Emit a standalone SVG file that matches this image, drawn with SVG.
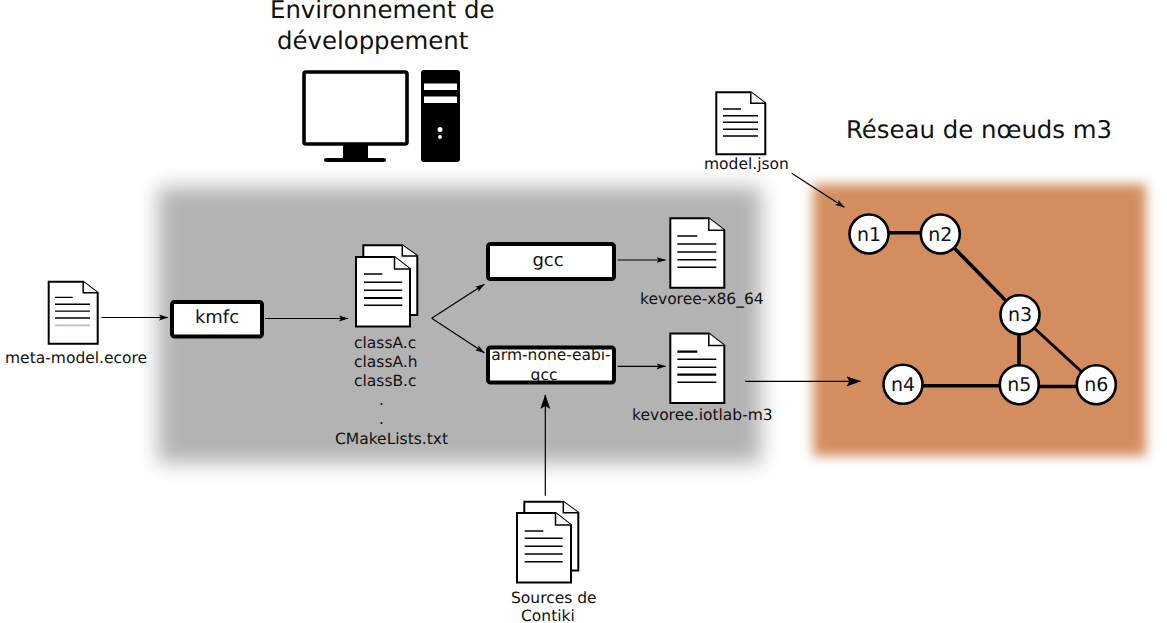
<svg xmlns="http://www.w3.org/2000/svg" width="1167" height="623" viewBox="0 0 1167 623">
<style>
text{font-family:"DejaVu Sans",sans-serif;fill:#111;text-rendering:geometricPrecision}
.t{font-size:24.4px}.s{font-size:15.5px}.b{font-size:18px}.n{font-size:19px;text-anchor:middle}
.box{fill:#fff;stroke:#000;stroke-width:4}
.doc{fill:#fff;stroke:#000;stroke-width:2}
.nv{stroke:#0e0840}
.fold{fill:#fff;stroke:#000;stroke-width:1.5}
.l{stroke:#000;stroke-width:1.4;fill:none}
.k{stroke-width:2.2}
.c{stroke:#000;stroke-width:1.2;fill:none;marker-end:url(#a)}
.d{stroke:#000;stroke-width:1.2;fill:none;marker-end:url(#g)}
.e{stroke:#000;stroke-width:3.6;fill:none}
.nd{fill:#fff;stroke:#000;stroke-width:2.6}
</style>
<defs>
<filter id="bl" x="-15%" y="-25%" width="130%" height="150%"><feGaussianBlur stdDeviation="10"/></filter>
<filter id="bl2" x="-15%" y="-15%" width="130%" height="130%"><feGaussianBlur stdDeviation="6"/></filter>
<marker id="a" markerWidth="11" markerHeight="8" refX="9" refY="3.500" orient="auto" markerUnits="userSpaceOnUse" viewBox="0 0 11 7"><path d="M0 0.500L9.500 3.500L0 6.500L2 3.500Z" fill="#000"/></marker>
<marker id="g" markerWidth="16" markerHeight="12" refX="14" refY="5" orient="auto" markerUnits="userSpaceOnUse" viewBox="0 0 16 10"><path d="M0 0L14.500 5L0 10L3 5Z" fill="#000"/></marker>
<g id="sheet"><path class="doc" d="M0 0H38.500L54 12V69.500H0Z"/><path class="fold" d="M38.500 0V12H54"/></g>
<g id="page"><path class="doc" d="M0 0H34.500L49 11V62H0Z"/><path class="fold" d="M34.500 0V11H49"/></g>
</defs>
<g id="panel-dev"><rect x="158" y="187" width="603" height="276" fill="#b3b3b3" filter="url(#bl)"/></g>
<g id="panel-net"><rect x="813" y="184" width="333" height="272" fill="#d38d5f" filter="url(#bl2)"/></g>
<g id="title-dev"><text class="t" x="270" y="18">Environnement de</text><text class="t" x="277" y="48.500">développement</text></g>
<g id="title-net"><text class="t" x="846" y="138">Réseau de nœuds m3</text></g>
<g id="computer">
<rect x="304" y="72" width="103" height="72" rx="2" fill="#fff" stroke="#000" stroke-width="3.600"/>
<rect x="343" y="145" width="25" height="13" fill="#000"/>
<rect x="324" y="158" width="62" height="4" rx="2" fill="#000"/>
<rect x="421" y="70" width="39" height="92" rx="3" fill="#000"/>
<rect x="424" y="83.500" width="33" height="6.500" fill="#fff"/><rect x="424" y="96.500" width="33" height="6.500" fill="#fff"/>
<circle cx="440" cy="129.500" r="2.500" fill="#fff"/><circle cx="440" cy="137" r="1.900" fill="#fff"/>
</g>
<g id="connectors">
<path class="c" d="M101.500 317.500H168"/>
<path class="c" d="M265 318.500H348"/>
<path class="c" d="M431.700 318.300L484.300 284.300"/>
<path class="c" d="M431.700 318.300L484.300 352.700"/>
<path class="c" d="M617.700 260H665.500"/>
<path class="c" d="M617.700 366.300H665.500"/>
<path class="d" d="M545.300 495.700V395"/>
<path class="d" d="M745 381.300H860.500"/>
<path class="c" d="M791.700 173.300L844.300 207.300"/>
<path class="e" d="M869 232.700H940"/>
<path class="e" d="M940 233.500L1020 315"/>
<path class="e" d="M1019 315V385"/>
<path class="e" d="M903 385.700H1019"/>
<path class="e" d="M1019 386.500H1096"/>
<path class="e" style="stroke-width:3" d="M1020 315L1096 385"/>
</g>
<g id="meta-model"><use href="#page" x="48.700" y="281.700"/>
<path class="l nv" d="M55 297.400H72.700M55 304.200H90M55 311.100H90M55 318H90"/>
<path d="M55 325.300H90" stroke="#bcb6d8" stroke-width="1.800"/>
<text class="s" x="5" y="363">meta-model.ecore</text></g>
<g id="kmfc"><rect class="box" x="172" y="302" width="90" height="34.500" rx="2.500"/><text class="b" x="217" y="323" text-anchor="middle">kmfc</text></g>
<g id="classes">
<path class="doc" d="M363.300 245.300H402.300L417.300 256V315H363.300Z"/><path class="fold" d="M402.300 245.300V256H417.300"/>
<use href="#sheet" x="356" y="257"/>
<path class="l" d="M364 274H382.300M364 282.300H402.300M364 290.300H402.300M364 305.300H402.300"/><path class="l k" d="M364 298H402.300"/>
<text class="s" x="354" y="348">classA.c</text><text class="s" x="354" y="367">classA.h</text><text class="s" x="354" y="386">classB.c</text>
<text class="s" x="379" y="405">.</text><text class="s" x="379" y="424">.</text>
<text class="s" x="335" y="444">CMakeLists.txt</text></g>
<g id="gcc"><rect class="box" x="488" y="244" width="126" height="35" rx="2.500"/><text class="b" x="548" y="266" text-anchor="middle">gcc</text></g>
<g id="arm"><rect class="box" x="488" y="347.500" width="126" height="35" rx="2.500"/><text class="s" x="551" y="360" text-anchor="middle">arm-none-eabi-</text><text class="s" x="544" y="380" text-anchor="middle">gcc</text></g>
<g id="kevoree-x86"><use href="#sheet" x="670.300" y="218.300"/>
<path class="l nv" d="M677.300 236H697.300M677.300 244H716.300M677.300 252H716.300M677.300 259.700H716.300M677.300 267.300H716.300"/>
<text class="s" x="640" y="304">kevoree-x86_64</text></g>
<g id="kevoree-m3"><use href="#sheet" x="670.300" y="333.500"/>
<path class="l nv k" d="M677.300 351.700H697.300M677.300 374.700H716.300"/><path class="l nv" d="M677.300 359.300H716.300M677.300 367.300H716.300M677.300 382.300H716.300"/>
<text class="s" x="632" y="420">kevoree.iotlab-m3</text></g>
<g id="contiki">
<path class="doc" d="M524.300 501.700H563.300L578.300 512.700V570.500H524.300Z"/><path class="fold" d="M563.300 501.700V512.700H578.300"/>
<use href="#sheet" x="517" y="513"/>
<path class="l" d="M524.700 531H543.300M524.700 538.300H562.700M524.700 546.300H562.700M524.700 554H562.700M524.700 561.700H562.700"/>
<text class="s" x="511" y="603">Sources de</text><text class="s" x="521" y="621">Contiki</text></g>
<g id="model-json"><use href="#page" x="716.300" y="92.300"/>
<path class="l" d="M723 109H741M723 115.700H758M723 122.300H758M723 129.300H758M723 136H758"/>
<text class="s" x="704" y="169">model.json</text></g>
<g id="n1"><circle class="nd" cx="869" cy="234" r="19.500"/><text class="n" x="869" y="240.500">n1</text></g>
<g id="n2"><circle class="nd" cx="940.300" cy="234" r="19.500"/><text class="n" x="940.300" y="240.500">n2</text></g>
<g id="n3"><circle class="nd" cx="1020" cy="314.700" r="19.500"/><text class="n" x="1020" y="321.200">n3</text></g>
<g id="n4"><circle class="nd" cx="903" cy="384.300" r="19.500"/><text class="n" x="903" y="391">n4</text></g>
<g id="n5"><circle class="nd" cx="1019.300" cy="384.700" r="19.500"/><text class="n" x="1019.300" y="391">n5</text></g>
<g id="n6"><circle class="nd" cx="1096.300" cy="384.700" r="19.500"/><text class="n" x="1096.300" y="391">n6</text></g>
</svg>
